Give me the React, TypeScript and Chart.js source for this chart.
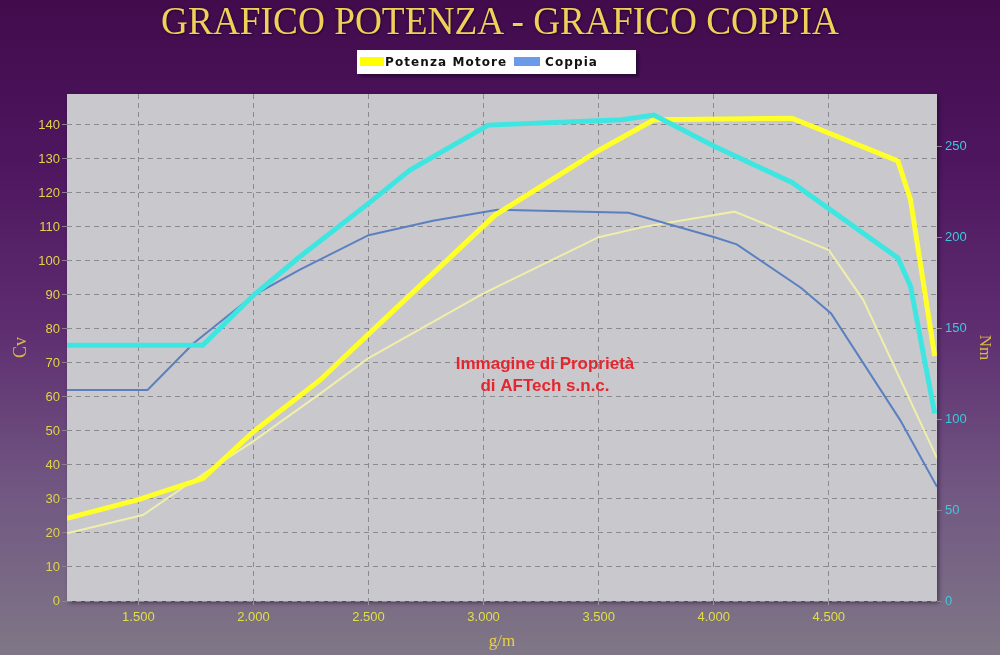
import React, { useEffect, useRef } from 'react';
import { Chart, registerables } from 'chart.js';

Chart.register(...registerables);

// Potenza Motore (Cv) – main run
const rpmPower = [1190, 1500, 1780, 2000, 2290, 2500, 3050, 3500, 3740, 4340, 4800, 4855, 4960];
const cvPower = [24.3, 29.8, 36, 49.8, 65, 78.5, 113.5, 132.5, 141.5, 142, 129.4, 118, 72];

// Potenza (Cv) – reference run (thin line)
const rpmPowerRef = [1190, 1520, 1710, 2000, 2290, 2500, 3000, 3500, 3700, 4090, 4500, 4650, 4970];
const cvPowerRef = [19.9, 25.3, 34.1, 47, 61, 71.4, 90.5, 107, 110.1, 114.5, 103.2, 88.5, 42];

// Coppia (Nm) – main run
const rpmTorque = [1190, 1780, 2000, 2200, 2500, 2680, 3020, 3600, 3740, 4000, 4340, 4800, 4855, 4960];
const nmTorque = [140.5, 140.5, 168, 189, 218.5, 236.8, 261.5, 264.5, 267, 250, 230, 188.5, 173, 103];

// Coppia (Nm) – reference run (thin line)
const rpmTorqueRef = [1190, 1540, 1740, 2000, 2200, 2500, 2780, 3060, 3630, 4000, 4100, 4380, 4510, 4810, 4970];
const nmTorqueRef = [116, 116, 141.6, 168, 182, 201, 209, 215, 213.3, 200, 196, 172, 158, 99.4, 62.8];

// Axes
const xTicks = [1500, 2000, 2500, 3000, 3500, 4000, 4500];
const xTickLabels = ['1.500', '2.000', '2.500', '3.000', '3.500', '4.000', '4.500'];
const cvTicks = [0, 10, 20, 30, 40, 50, 60, 70, 80, 90, 100, 110, 120, 130, 140];
const nmTicks = [0, 50, 100, 150, 200, 250];
const X_MIN = 1190;
const X_MAX = 4970;
const CV_MAX = 149.1;
const NM_MAX = 278.6;

const TITLE = 'GRAFICO POTENZA - GRAFICO COPPIA';
const LEGEND_POWER = 'Potenza Motore';
const LEGEND_TORQUE = 'Coppia';
const WATERMARK = ['Immagine di Proprietà', 'di AFTech s.n.c.'];

const toPoints = (xs: number[], ys: number[]) => xs.map((x, i) => ({ x, y: ys[i] }));

const plotBg = {
  id: 'plotBg',
  beforeDraw(chart: any) {
    const { ctx, chartArea } = chart;
    if (!chartArea) return;
    ctx.save();
    ctx.shadowColor = 'rgba(20,0,30,0.45)';
    ctx.shadowBlur = 4;
    ctx.shadowOffsetX = 2;
    ctx.shadowOffsetY = 2;
    ctx.fillStyle = '#c9c8cc';
    ctx.fillRect(chartArea.left, chartArea.top, chartArea.right - chartArea.left, chartArea.bottom - chartArea.top);
    ctx.restore();
  },
};

const watermark = {
  id: 'watermark',
  afterDatasetsDraw(chart: any) {
    const { ctx } = chart;
    ctx.save();
    ctx.font = 'bold 17px "Liberation Sans", Arial, sans-serif';
    ctx.fillStyle = '#e5262e';
    ctx.textAlign = 'center';
    ctx.textBaseline = 'middle';
    ctx.fillText(WATERMARK[0], 545, 364);
    ctx.fillText(WATERMARK[1], 545, 386);
    ctx.restore();
  },
};

export default function App() {
  const ref = useRef<HTMLCanvasElement | null>(null);

  useEffect(() => {
    if (!ref.current) return;
    const gridDash = [5, 4];
    const chart = new Chart(ref.current, {
      type: 'line',
      data: {
        datasets: [
          {
            label: 'Coppia',
            data: toPoints(rpmTorque, nmTorque),
            yAxisID: 'y1',
            borderColor: '#3ee6e2',
            borderWidth: 5,
            pointRadius: 0,
            tension: 0,
          },
          {
            label: 'Potenza Motore',
            data: toPoints(rpmPower, cvPower),
            yAxisID: 'y',
            borderColor: '#ffff2a',
            borderWidth: 5,
            pointRadius: 0,
            tension: 0,
          },
          {
            label: 'Coppia (rif.)',
            data: toPoints(rpmTorqueRef, nmTorqueRef),
            yAxisID: 'y1',
            borderColor: '#5a80c2',
            borderWidth: 2,
            pointRadius: 0,
            tension: 0,
          },
          {
            label: 'Potenza (rif.)',
            data: toPoints(rpmPowerRef, cvPowerRef),
            yAxisID: 'y',
            borderColor: '#f0eeaa',
            borderWidth: 2,
            pointRadius: 0,
            tension: 0,
          },
        ],
      },
      options: {
        responsive: false,
        devicePixelRatio: 1,
        animation: false,
        layout: { padding: { top: 94, left: 0, right: 0, bottom: 0 } },
        plugins: {
          legend: { display: false },
          title: { display: false },
          tooltip: { enabled: false },
        },
        scales: {
          x: {
            type: 'linear',
            min: X_MIN,
            max: X_MAX,
            afterFit: (s: any) => { s.height = 54; },
            afterBuildTicks: (s: any) => { s.ticks = xTicks.map((v) => ({ value: v })); },
            grid: { color: '#8a8a8e', lineWidth: 1, tickLength: 4, tickColor: '#9a96a0' },
            border: { display: false, dash: gridDash },
            ticks: {
              color: '#e2de4a',
              font: { family: '"Liberation Sans", Arial, sans-serif', size: 13 },
              padding: 5,
              maxRotation: 0,
              callback: (v: any) => xTickLabels[xTicks.indexOf(Number(v))] ?? '',
            },
            title: {
              display: true,
              text: 'g/m',
              color: '#e6d04a',
              font: { family: '"Liberation Serif", serif', size: 17 },
              padding: { top: 0, bottom: 3 },
            },
          },
          y: {
            type: 'linear',
            position: 'left',
            min: 0,
            max: CV_MAX,
            afterFit: (s: any) => { s.width = 67; },
            afterBuildTicks: (s: any) => { s.ticks = cvTicks.map((v) => ({ value: v })); },
            grid: { color: '#8a8a8e', lineWidth: 1, tickLength: 5, tickColor: '#8a8090' },
            border: { display: false, dash: gridDash },
            ticks: {
              color: '#e0d448',
              font: { family: '"Liberation Sans", Arial, sans-serif', size: 13 },
              padding: 2,
            },
            title: {
              display: true,
              text: 'Cv',
              color: '#d8b848',
              font: { family: '"Liberation Serif", serif', size: 18 },
              padding: { top: 10, bottom: 0 },
            },
          },
          y1: {
            type: 'linear',
            position: 'right',
            min: 0,
            max: NM_MAX,
            afterFit: (s: any) => { s.width = 63; },
            afterBuildTicks: (s: any) => { s.ticks = nmTicks.map((v) => ({ value: v })); },
            grid: { drawOnChartArea: false, tickLength: 5, tickColor: '#8a8090' },
            border: { display: false },
            ticks: {
              color: '#3ec8dc',
              font: { family: '"Liberation Sans", Arial, sans-serif', size: 13 },
              padding: 3,
            },
            title: {
              display: true,
              text: 'Nm',
              color: '#d8b848',
              font: { family: '"Liberation Serif", serif', size: 17 },
              padding: { top: 5, bottom: 0 },
            },
          },
        },
      },
      plugins: [plotBg, watermark],
    } as any);
    return () => chart.destroy();
  }, []);

  return (
    <div
      style={{
        position: 'absolute',
        left: 0,
        top: 0,
        width: 1000,
        height: 655,
        overflow: 'hidden',
        background: 'linear-gradient(180deg, #410b4c 0%, #4e165f 25%, #5e2d70 50%, #715782 75%, #7f7786 100%)',
      }}
    >
      <canvas ref={ref} width={1000} height={655} style={{ position: 'absolute', left: 0, top: 0 }} />
      <div
        style={{
          position: 'absolute',
          left: 0,
          top: -2,
          width: 1000,
          textAlign: 'center',
          fontFamily: '"Liberation Serif", "DejaVu Serif", serif',
          fontSize: 41,
          lineHeight: '44px',
          color: '#f0d05a',
          textShadow: '1px 1px 1px #2a0832, 0 0 3px #300a3a',
          transform: 'scaleX(0.91)',
          whiteSpace: 'nowrap',
        }}
      >
        {TITLE}
      </div>
      <div
        style={{
          position: 'absolute',
          left: 357,
          top: 50,
          width: 279,
          height: 24,
          background: '#ffffff',
          boxShadow: '3px 3px 2px rgba(20,0,30,0.45)',
          fontFamily: '"DejaVu Sans", sans-serif',
          fontWeight: 'bold',
          fontSize: 12,
          letterSpacing: '1.1px',
          color: '#111',
        }}
      >
        <div style={{ position: 'absolute', left: 3, top: 7, width: 24, height: 9, background: '#ffff00' }} />
        <div style={{ position: 'absolute', left: 28, top: 4, lineHeight: '16px', whiteSpace: 'nowrap' }}>{LEGEND_POWER}</div>
        <div style={{ position: 'absolute', left: 157, top: 7, width: 26, height: 9, background: '#6b9be8' }} />
        <div style={{ position: 'absolute', left: 188, top: 4, lineHeight: '16px', whiteSpace: 'nowrap' }}>{LEGEND_TORQUE}</div>
      </div>
    </div>
  );
}
